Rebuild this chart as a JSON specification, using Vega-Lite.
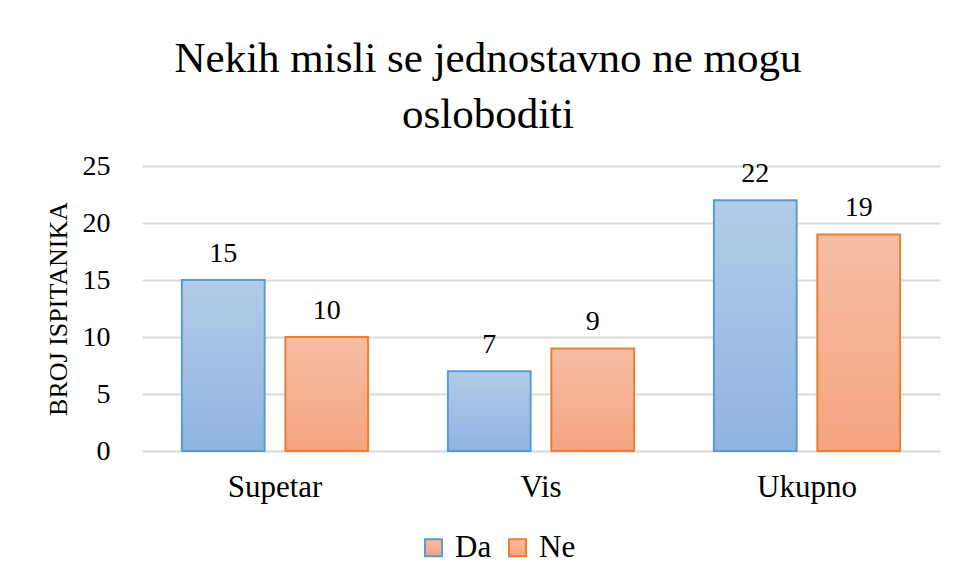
{
  "$schema": "https://vega.github.io/schema/vega-lite/v6.json",
  "width": 798,
  "height": 285,
  "autosize": {"type": "none"},
  "padding": {"left": 142, "top": 166, "right": 18, "bottom": 131},
  "background": "white",
  "config": {
    "view": {"stroke": null},
    "font": "Liberation Serif",
    "text": {"font": "Liberation Serif"}
  },
  "title": {
    "text": ["Nekih misli se jednostavno ne mogu", "osloboditi"],
    "font": "Liberation Serif",
    "fontSize": 43,
    "fontWeight": "normal",
    "color": "#000000",
    "lineHeight": 56,
    "anchor": "middle",
    "dx": -53,
    "offset": 15
  },
  "data": {
    "values": [
      {"Mjesto": "Supetar", "Odgovor": "Da", "Broj": 15},
      {"Mjesto": "Supetar", "Odgovor": "Ne", "Broj": 10},
      {"Mjesto": "Vis", "Odgovor": "Da", "Broj": 7},
      {"Mjesto": "Vis", "Odgovor": "Ne", "Broj": 9},
      {"Mjesto": "Ukupno", "Odgovor": "Da", "Broj": 22},
      {"Mjesto": "Ukupno", "Odgovor": "Ne", "Broj": 19}
    ]
  },
  "encoding": {
    "x": {
      "field": "Mjesto",
      "type": "nominal",
      "sort": null,
      "scale": {"paddingInner": 0.3, "paddingOuter": 0.15},
      "axis": {
        "title": null,
        "labelAngle": 0,
        "labelFont": "Liberation Serif",
        "labelFontSize": 31,
        "labelColor": "#000000",
        "labelPadding": 21,
        "domain": false,
        "ticks": false
      }
    },
    "xOffset": {
      "field": "Odgovor",
      "type": "nominal",
      "scale": {"paddingInner": 0.2, "paddingOuter": 0}
    },
    "y": {
      "field": "Broj",
      "type": "quantitative",
      "scale": {"domain": [0, 25]},
      "axis": {
        "title": "BROJ ISPITANIKA",
        "titleFont": "Liberation Serif",
        "titleFontSize": 26,
        "titleFontWeight": "normal",
        "titleColor": "#000000",
        "titlePadding": 11,
        "values": [0, 5, 10, 15, 20, 25],
        "labelFont": "Liberation Serif",
        "labelFontSize": 28,
        "labelColor": "#000000",
        "labelPadding": 32,
        "domain": false,
        "ticks": false,
        "gridColor": "#D9D9D9",
        "gridWidth": 2
      }
    }
  },
  "layer": [
    {
      "mark": {"type": "bar", "strokeWidth": 2},
      "encoding": {
        "fill": {
          "condition": {
            "test": "datum.Odgovor === 'Da'",
            "value": {"gradient": "linear", "x1": 0, "y1": 0, "x2": 0, "y2": 1, "stops": [{"offset": 0, "color": "#B2CCE9"}, {"offset": 1, "color": "#8FB4E1"}]}
          },
          "value": {"gradient": "linear", "x1": 0, "y1": 0, "x2": 0, "y2": 1, "stops": [{"offset": 0, "color": "#F6BEA5"}, {"offset": 1, "color": "#F4A47F"}]}
        },
        "stroke": {
          "field": "Odgovor",
          "type": "nominal",
          "scale": {"domain": ["Da", "Ne"], "range": ["#5B9BD5", "#ED7D31"]},
          "legend": {
            "title": null,
            "orient": "none",
            "legendX": 276,
            "legendY": 366,
            "direction": "horizontal",
            "labelFont": "Liberation Serif",
            "labelFontSize": 31,
            "labelColor": "#000000",
            "symbolType": "square",
            "symbolSize": 289,
            "symbolStrokeWidth": 2,
            "columnPadding": 10,
            "labelOffset": 6,
            "encode": {
              "symbols": {
                "update": {
                  "fill": {"signal": "datum.value === 'Da' ? '#A3C2E6' : '#F5B293'"},
                  "fillOpacity": {"value": 1}
                }
              }
            }
          }
        }
      }
    },
    {
      "mark": {"type": "text", "baseline": "alphabetic", "dy": -18, "font": "Liberation Serif", "fontSize": 28, "color": "#000000"},
      "encoding": {
        "text": {"field": "Broj", "type": "quantitative"}
      }
    }
  ]
}
